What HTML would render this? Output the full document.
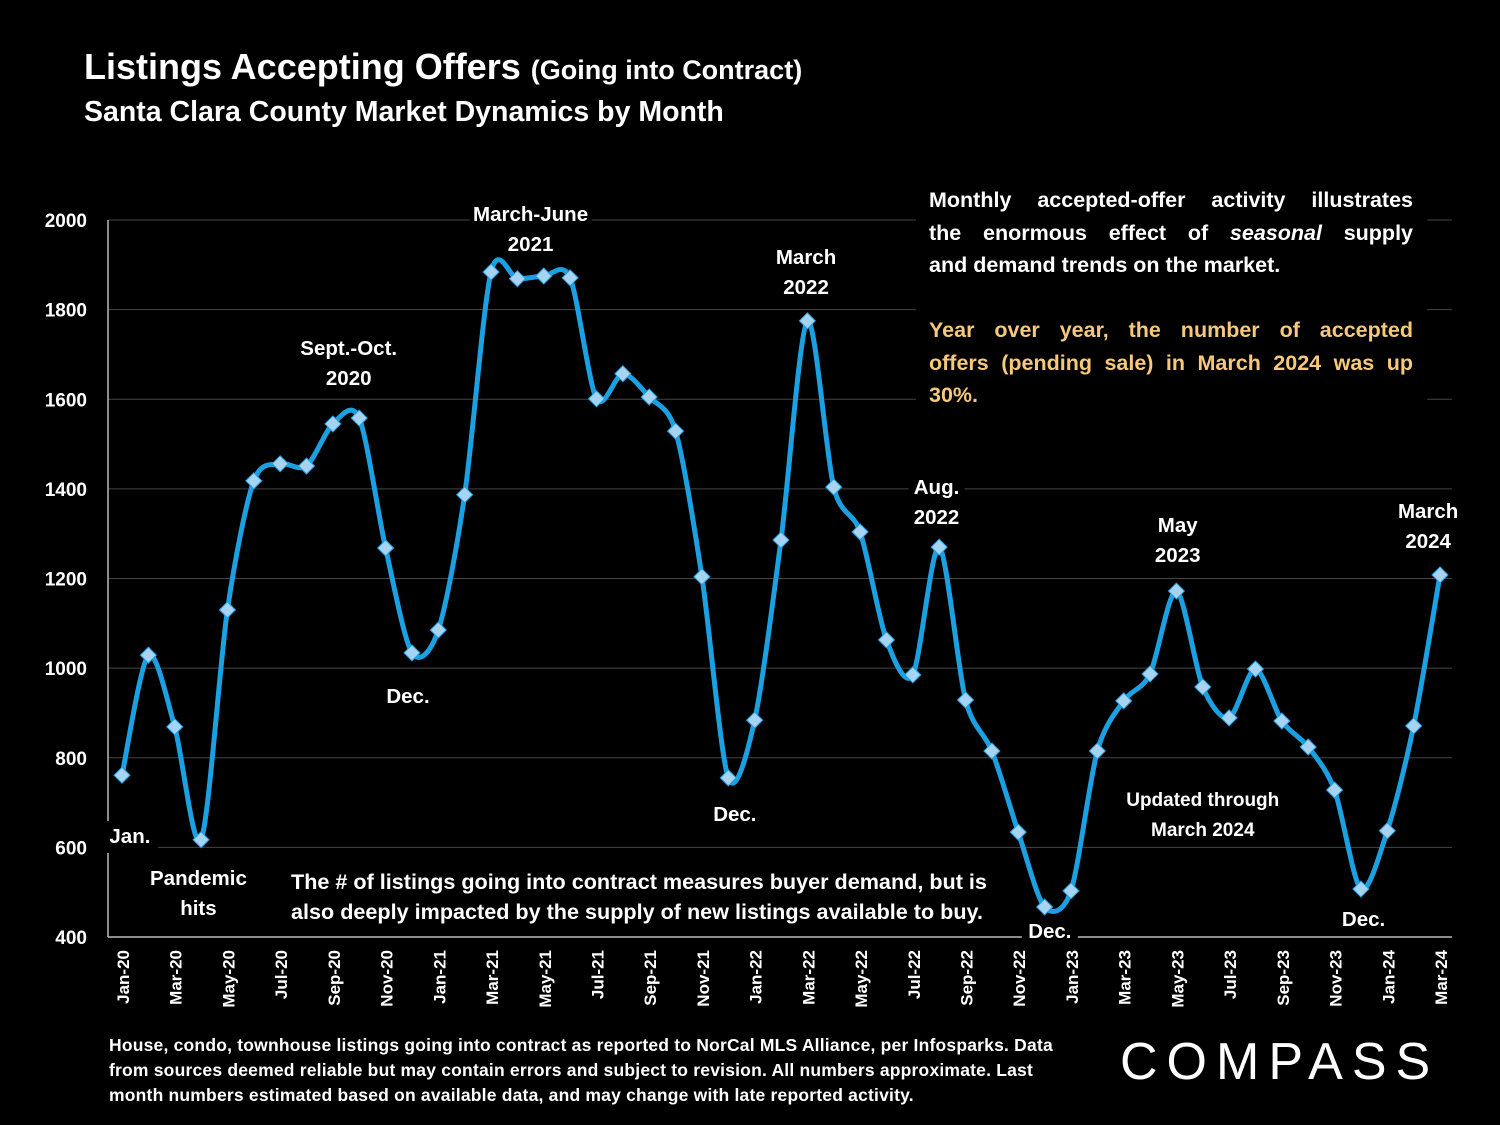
<!DOCTYPE html>
<html><head><meta charset="utf-8">
<style>
body{margin:0;background:#000;width:1500px;height:1125px;overflow:hidden;font-family:"Liberation Sans",sans-serif;color:#fff}
.t{position:absolute;font-weight:bold;white-space:nowrap}
.j{text-align:justify;text-align-last:justify;height:32.5px}
</style></head><body>
<div class="t" style="left:84px;top:46px;font-size:36px;letter-spacing:0px">Listings Accepting Offers <span style="font-size:27px">(Going into Contract)</span></div>
<div class="t" style="left:84px;top:96px;font-size:28.5px">Santa Clara County Market Dynamics by Month</div>
<svg id="chart" width="1500" height="1125" style="position:absolute;left:0;top:0"></svg>
<div class="t" style="left:916px;top:184px;width:484px;padding:0 14px 0 13px;white-space:normal;font-size:21.5px;line-height:32.5px;background:#000;height:230px">
<div class="j">Monthly accepted-offer activity illustrates</div>
<div class="j">the enormous effect of <i>seasonal</i> supply</div>
<div style="height:32.5px">and demand trends on the market.</div>
<div style="height:32.5px"></div>
<div class="j" style="color:#f6c97a">Year over year, the number of accepted</div>
<div class="j" style="color:#f6c97a">offers (pending sale) in March 2024 was up</div>
<div style="color:#f6c97a;height:32.5px">30%.</div>
</div>
<div class="t" style="left:109px;top:1033px;font-size:17.5px;line-height:25px;letter-spacing:0.2px">House, condo, townhouse listings going into contract as reported to NorCal MLS Alliance, per Infosparks. Data<br>from sources deemed reliable but may contain errors and subject to revision. All numbers approximate. Last<br>month numbers estimated based on available data, and may change with late reported activity.</div>
<div class="t" style="left:1120px;top:1032px;font-size:52px;font-weight:normal;letter-spacing:9px">COMPASS</div>
<script>
const months=["Jan-20","Feb-20","Mar-20","Apr-20","May-20","Jun-20","Jul-20","Aug-20","Sep-20","Oct-20","Nov-20","Dec-20","Jan-21","Feb-21","Mar-21","Apr-21","May-21","Jun-21","Jul-21","Aug-21","Sep-21","Oct-21","Nov-21","Dec-21","Jan-22","Feb-22","Mar-22","Apr-22","May-22","Jun-22","Jul-22","Aug-22","Sep-22","Oct-22","Nov-22","Dec-22","Jan-23","Feb-23","Mar-23","Apr-23","May-23","Jun-23","Jul-23","Aug-23","Sep-23","Oct-23","Nov-23","Dec-23","Jan-24","Feb-24","Mar-24"];
const values=[761,1029,869,617,1130,1418,1456,1451,1545,1558,1268,1034,1085,1387,1884,1869,1875,1871,1601,1657,1605,1529,1204,755,884,1286,1775,1404,1304,1063,985,1270,929,815,634,467,503,815,927,987,1172,958,889,998,882,824,728,507,637,871,1208];
const yTicks=[400,600,800,1000,1200,1400,1600,1800,2000];
const notes=[["Jan.",0.3,610],["Pandemic|hits",2.9,516],["Sept.-Oct.|2020",8.6,1699],["Dec.",10.85,922],["March-June|2021",15.5,1998],["Dec.",23.25,659],["March|2022",25.95,1902],["Aug.|2022",30.9,1389],["Dec.",35.2,398],["May|2023",40.05,1304],["Updated through|March 2024",41,692],["Dec.",47.1,425],["March|2024",49.55,1335]];
const NS="http://www.w3.org/2000/svg",svg=document.getElementById('chart');
const x=i=>122+i*(1440-122)/50, y=v=>937-(v-400)*(937-220)/1600;
function el(t,a,p){const e=document.createElementNS(NS,t);for(const k in a)e.setAttribute(k,a[k]);(p||svg).appendChild(e);return e;}
yTicks.forEach(v=>{
 if(v>400){const g=el('line',{x1:108,x2:1452,y1:y(v),y2:y(v),stroke:'#444','stroke-width':1});
 
 }
 const t=el('text',{x:87,y:y(v)+7,'text-anchor':'end',fill:'#fff','font-size':19,'font-weight':'bold'});t.textContent=v;
 
 
});
const ax=el('line',{x1:108,x2:108,y1:220,y2:937,stroke:'#bbb','stroke-width':1.5});


const bx=el('line',{x1:108,x2:1452,y1:937,y2:937,stroke:'#bbb','stroke-width':1.5});


months.forEach((m,i)=>{if(i%2)return;
 const t=el('text',{transform:`translate(${x(i)+7},950) rotate(-90)`,'text-anchor':'end',fill:'#fff','font-size':17,'font-weight':'bold'});t.textContent=m;
 
 
});
notes.forEach(([s,i,v])=>{const lines=s.split('|');const g=el('g',{});
 
 
 const small=s.startsWith('Updated');const fs=small?19:20.5;
 const w=Math.max(...lines.map(l=>l.length))*11+12;
 el('rect',{x:x(i)-w/2,y:y(v)-22,width:w,height:lines.length*30+2,fill:'#000'},g);
 lines.forEach((l,k)=>{const t=el('text',{x:x(i),y:y(v)+k*30,'text-anchor':'middle',fill:'#fff','font-size':fs,'font-weight':'bold'},g);t.textContent=l;});
});
const g2=el('g',{});


el('rect',{x:285,y:862,width:730,height:62,fill:'#000'},g2);
["The # of listings going into contract measures buyer demand, but is","also deeply impacted by the supply of new listings available to buy."].forEach((l,k)=>{const t=el('text',{x:291,y:889+k*30,fill:'#fff','font-size':21.6,'font-weight':'bold'},g2);t.textContent=l;});
const P=values.map((v,i)=>[x(i),y(v)]);let d=`M${P[0][0]},${P[0][1]}`;
const k=1/7;
for(let i=0;i<P.length-1;i++){const p0=P[i-1]||P[i],p1=P[i],p2=P[i+1],p3=P[i+2]||p2;
 d+=` C${p1[0]+(p2[0]-p0[0])*k},${p1[1]+(p2[1]-p0[1])*k} ${p2[0]-(p3[0]-p1[0])*k},${p2[1]-(p3[1]-p1[1])*k} ${p2[0]},${p2[1]}`;}
const line=el('path',{d,fill:'none',stroke:'#1ba1e2','stroke-width':5});


values.forEach((v,i)=>{const cx=x(i),cy=y(v);
 const m=el('polygon',{points:`${cx},${cy-8} ${cx+8},${cy} ${cx},${cy+8} ${cx-8},${cy}`,fill:'#a6d3f2',stroke:'#1ba1e2','stroke-width':1});
 
 
});
</script>
</body></html>
